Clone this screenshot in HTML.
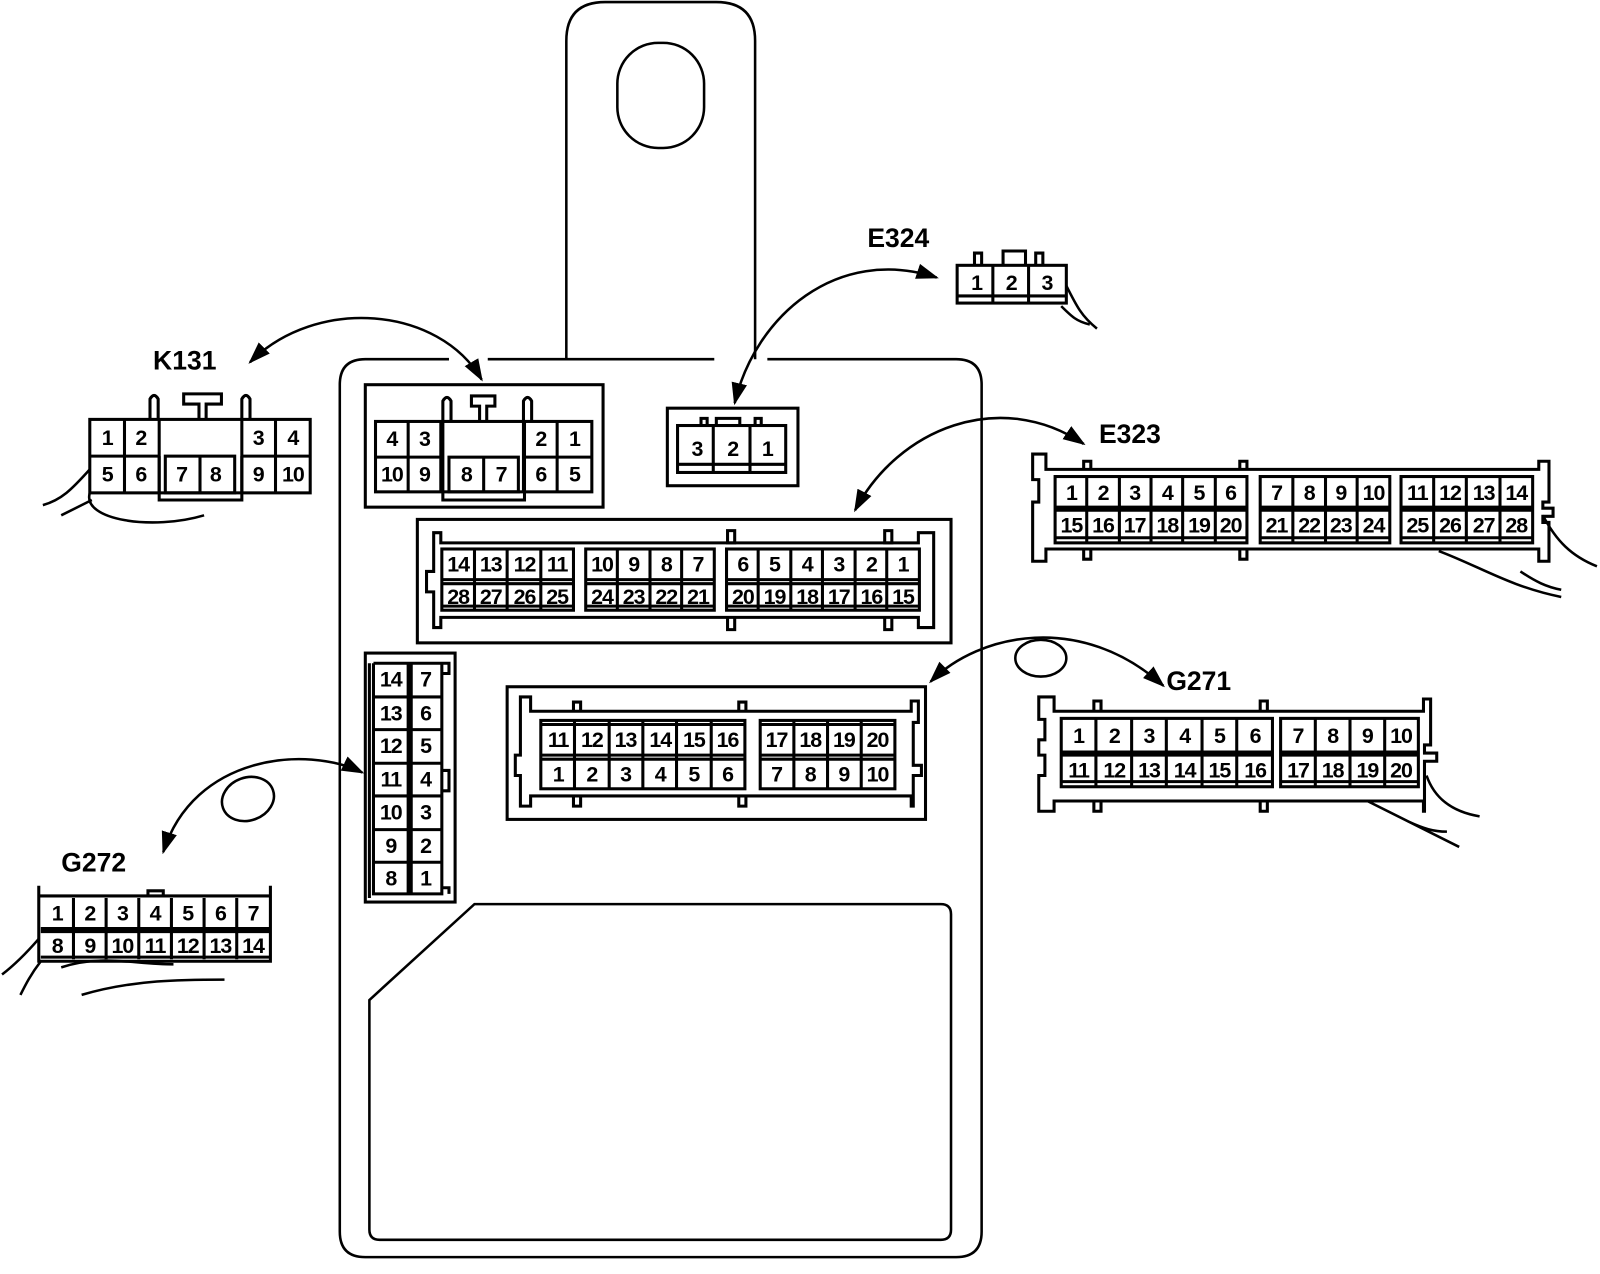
<!DOCTYPE html>
<html><head><meta charset="utf-8"><style>
html,body{margin:0;padding:0;background:#fff}
svg{display:block}
text{font-family:"Liberation Sans",Arial,sans-serif;font-weight:bold;fill:#000;text-anchor:middle}
.n{font-size:21px;letter-spacing:-1px}
.L{font-size:26px;text-anchor:start}
</style></head><body>
<svg width="1600" height="1274" viewBox="0 0 1568 1248.5" xmlns="http://www.w3.org/2000/svg">
<defs>
<marker id="b" viewBox="0 0 10 10" refX="9" refY="5" markerWidth="22" markerHeight="22" orient="auto-start-reverse" markerUnits="userSpaceOnUse"><path d="M0,1.5 L10,5 L0,8.5 Z"/></marker></defs>
<g fill="none" stroke="#000" stroke-width="2.5">
<!-- housing -->
<path d="M555,352 L555,40 Q555,2 593,2 L702,2 Q740,2 740,40 L740,352"/>
<rect x="605" y="42" width="85" height="103" rx="40"/>
<path d="M440,352 L358,352 Q333,352 333,377 L333,1207 Q333,1232 358,1232 L937,1232 Q962,1232 962,1207 L962,377 Q962,352 937,352 L752,352 M700,352 L478,352"/>
<path d="M465,886 L922,886 Q932,886 932,896 L932,1205 Q932,1215 922,1215 L372,1215 Q362,1215 362,1205 L362,980 Z"/>
</g>
<g fill="none" stroke="#000" stroke-width="3">
<!-- internal K131 -->
<rect x="358" y="377" width="233" height="120"/>
<rect x="368" y="413" width="212" height="69"/>
<path d="M368,448 H432 M513,448 H580 M400,413 V482 M546,413 V482 M432,413 V482 M513,413 V482"/>
<path d="M434,413 V490 H514 V413"/><rect x="440" y="448" width="68" height="34"/><path d="M474,448 V482"/>
<path d="M434,413 V393 Q438,386 442,393 V413 M513,413 V393 Q517,386 521,393 V413"/>
<path d="M470,413 V398 H462 V388 H485 V398 H477 V413"/>
<!-- internal E324 -->
<rect x="654" y="400" width="128" height="76"/>
<rect x="664" y="417" width="106" height="46"/><path d="M664,455 H770 M699,417 V463 M735,417 V463 M702,417 V410 H725 V417 M687,417 V410 H693 V417 M740,417 V410 H746 V417"/>
<!-- internal 28 -->
<rect x="409" y="509" width="523" height="121"/>
<path d="M425,522 H432 V532 H900 V522 H915 V615 H900 V605 H432 V615 H425 V580 H418 V560 H425 Z"/>
<rect x="433" y="538" width="129" height="60"/><rect x="574" y="538" width="126" height="60"/><rect x="712" y="538" width="189" height="60"/>
<path d="M433,568 H562 M433,572 H562 M433,594 H562 M574,568 H700 M574,572 H700 M574,594 H700 M712,568 H901 M712,572 H901 M712,594 H901"/>
<path d="M465,538 V598 M497,538 V598 M530,538 V598 M605,538 V598 M637,538 V598 M668,538 V598 M743,538 V598 M775,538 V598 M806,538 V598 M838,538 V598 M869,538 V598"/>
<path d="M713,520 V532 H720 V520 Z M867,520 V532 H874 V520 Z M713,605 V617 H720 V605 M867,605 V617 H874 V605"/>
<!-- vertical 14 -->
<rect x="358" y="640" width="88" height="244"/>
<path d="M362,650 V880 M366,650 V876 H433 V650 M400,650 V876 M403,650 V876 M366,650 H433 M433,650 H440 V660 H433 M433,755 H440 V775 H433 M433,870 H440 V876"/>
<path d="M366,683 H433 M366,715 H433 M366,748 H433 M366,780 H433 M366,813 H433 M366,845 H433"/>
<!-- internal 20 -->
<rect x="497" y="673" width="410" height="130"/>
<path d="M510,683 H520 V697 H893 V687 H900 V708 H895 V750 H903 V760 H895 V790 H893 V780 H520 V790 H510 V760 H505 V740 H510 Z"/>
<rect x="530" y="706" width="200" height="67"/><rect x="745" y="706" width="132" height="67"/>
<path d="M530,710 H730 M530,740 H730 M530,744 H730 M745,710 H877 M745,740 H877 M745,744 H877"/>
<path d="M563,706 V773 M597,706 V773 M630,706 V773 M663,706 V773 M697,706 V773 M778,706 V773 M811,706 V773 M844,706 V773"/>
<path d="M562,697 V688 H569 V697 M724,697 V688 H731 V697 M562,780 V790 H569 V780 M724,780 V790 H731 V780"/>
<!-- K131 external -->
<rect x="88" y="411" width="216" height="72"/>
<path d="M88,447 H156 M237,447 H304 M122,411 V483 M270,411 V483 M156,411 V483 M237,411 V483"/>
<path d="M156,447 V490 H237 V447"/><rect x="162" y="447" width="68" height="36"/><path d="M196,447 V483"/>
<path d="M147,411 V391 Q151,384 155,391 V411 M237,411 V391 Q241,384 245,391 V411"/>
<path d="M195,411 V396 H180 V386 H217 V396 H202 V411"/>
<!-- E324 external -->
<rect x="938" y="260" width="107" height="37"/><path d="M938,290 H1045 M973,260 V297 M1008,260 V297 M955,260 V248 H962 V260 M983,260 V246 H1005 V260 M1015,260 V248 H1022 V260"/>
<!-- E323 external -->
<path d="M1012,445 H1025 V460 H1508 V452 H1518 V492 H1512 V498 H1522 V506 H1512 V512 H1518 V550 H1508 V538 H1025 V550 H1012 V492 H1018 V470 H1012 Z"/>
<rect x="1034" y="467" width="188" height="65"/><rect x="1235" y="467" width="127" height="65"/><rect x="1373" y="467" width="129" height="65"/>
<path d="M1034,497 H1222 M1034,500 H1222 M1034,527 H1222 M1235,497 H1362 M1235,500 H1362 M1235,527 H1362 M1373,497 H1502 M1373,500 H1502 M1373,527 H1502"/>
<path d="M1065,467 V532 M1097,467 V532 M1128,467 V532 M1159,467 V532 M1191,467 V532 M1267,467 V532 M1299,467 V532 M1330,467 V532 M1405,467 V532 M1437,467 V532 M1470,467 V532"/>
<path d="M1062,460 V452 H1069 V460 M1215,460 V452 H1222 V460 M1062,538 V548 H1069 V538 M1215,538 V548 H1222 V538"/>
<!-- G271 external -->
<path d="M1018,683 H1033 V697 H1395 V685 H1402 V730 H1396 V738 H1408 V746 H1396 V795 H1395 V785 H1033 V795 H1018 V760 H1024 V740 H1018 V725 H1024 V705 H1018 Z"/>
<rect x="1040" y="704" width="207" height="67"/><rect x="1255" y="704" width="135" height="67"/>
<path d="M1040,737 H1247 M1040,740 H1247 M1040,766 H1247 M1255,737 H1390 M1255,740 H1390 M1255,766 H1390"/>
<path d="M1074,704 V771 M1109,704 V771 M1143,704 V771 M1178,704 V771 M1212,704 V771 M1289,704 V771 M1323,704 V771 M1357,704 V771"/>
<path d="M1072,697 V687 H1079 V697 M1235,697 V687 H1242 V697 M1072,785 V795 H1079 V785 M1235,785 V795 H1242 V785"/>
<!-- G272 external -->
<path d="M38,868 V878 H265 V868 M38,878 V942 H265 V878 M40,910 H264 M40,913 H264 M40,938 H264"/>
<path d="M72,880 V940 M104,880 V940 M136,880 V940 M168,880 V940 M200,880 V940 M232,880 V940 M145,878 V873 H160 V878"/>
</g>
<!-- arrows -->
<g fill="none" stroke="#000" stroke-width="2.5">
<path d="M472,372 C430,300 310,290 245,355" marker-start="url(#b)" marker-end="url(#b)"/>
<path d="M720,395 C740,310 820,240 918,272" marker-start="url(#b)" marker-end="url(#b)"/>
<path d="M838,500 C880,420 980,380 1062,435" marker-start="url(#b)" marker-end="url(#b)"/>
<path d="M912,668 C960,620 1060,600 1140,672" marker-start="url(#b)" marker-end="url(#b)"/>
<path d="M355,757 C300,730 190,740 160,835" marker-start="url(#b)" marker-end="url(#b)"/>
<ellipse cx="1020" cy="645" rx="25" ry="18"/>
<ellipse cx="243" cy="783" rx="26" ry="21" transform="rotate(-20 243 783)"/>
<!-- wires -->
<path d="M88,460 C70,480 60,490 42,495 M60,505 C70,500 80,495 90,490 M88,483 C80,510 150,520 200,505"/>
<path d="M1045,280 C1055,300 1060,310 1075,322 M1040,300 C1050,310 1055,315 1068,318"/>
<path d="M1512,505 C1525,530 1540,545 1565,555 M1410,540 C1450,555 1480,575 1530,585 M1490,560 C1505,570 1515,575 1530,578"/>
<path d="M1398,760 C1405,780 1420,795 1450,800 M1340,785 C1370,800 1400,815 1430,830 M1380,805 C1395,812 1405,815 1418,815"/>
<path d="M38,920 C25,935 15,945 2,955 M40,942 C30,955 25,965 20,975 M60,948 C100,935 130,945 170,945 M80,975 C130,960 180,960 220,960"/>
</g>
<!-- labels -->
<text class="L" x="150" y="362">K131</text>
<text class="L" x="850" y="242">E324</text>
<text class="L" x="1077" y="434">E323</text>
<text class="L" x="1143" y="676">G271</text>
<text class="L" x="60" y="854">G272</text>
<g class="n">
<text x="384" y="437">4</text><text x="416" y="437">3</text><text x="530" y="437">2</text><text x="563" y="437">1</text>
<text x="384" y="472">10</text><text x="416" y="472">9</text><text x="457" y="472">8</text><text x="491" y="472">7</text><text x="530" y="472">6</text><text x="563" y="472">5</text>
<text x="683" y="447">3</text><text x="718" y="447">2</text><text x="752" y="447">1</text>
<text x="449" y="560">14</text><text x="481" y="560">13</text><text x="514" y="560">12</text><text x="546" y="560">11</text>
<text x="590" y="560">10</text><text x="621" y="560">9</text><text x="653" y="560">8</text><text x="684" y="560">7</text>
<text x="728" y="560">6</text><text x="759" y="560">5</text><text x="791" y="560">4</text><text x="822" y="560">3</text><text x="854" y="560">2</text><text x="885" y="560">1</text>
<text x="449" y="592">28</text><text x="481" y="592">27</text><text x="514" y="592">26</text><text x="546" y="592">25</text>
<text x="590" y="592">24</text><text x="621" y="592">23</text><text x="653" y="592">22</text><text x="684" y="592">21</text>
<text x="728" y="592">20</text><text x="759" y="592">19</text><text x="791" y="592">18</text><text x="822" y="592">17</text><text x="854" y="592">16</text><text x="885" y="592">15</text>
<text x="383" y="673">14</text><text x="383" y="706">13</text><text x="383" y="738">12</text><text x="383" y="771">11</text><text x="383" y="803">10</text><text x="383" y="836">9</text><text x="383" y="868">8</text>
<text x="417" y="673">7</text><text x="417" y="706">6</text><text x="417" y="738">5</text><text x="417" y="771">4</text><text x="417" y="803">3</text><text x="417" y="836">2</text><text x="417" y="868">1</text>
<text x="547" y="732">11</text><text x="580" y="732">12</text><text x="613" y="732">13</text><text x="647" y="732">14</text><text x="680" y="732">15</text><text x="713" y="732">16</text>
<text x="761" y="732">17</text><text x="794" y="732">18</text><text x="827" y="732">19</text><text x="860" y="732">20</text>
<text x="547" y="766">1</text><text x="580" y="766">2</text><text x="613" y="766">3</text><text x="647" y="766">4</text><text x="680" y="766">5</text><text x="713" y="766">6</text>
<text x="761" y="766">7</text><text x="794" y="766">8</text><text x="827" y="766">9</text><text x="860" y="766">10</text>
<text x="105" y="436">1</text><text x="138" y="436">2</text><text x="253" y="436">3</text><text x="287" y="436">4</text>
<text x="105" y="472">5</text><text x="138" y="472">6</text><text x="178" y="472">7</text><text x="211" y="472">8</text><text x="253" y="472">9</text><text x="287" y="472">10</text>
<text x="957" y="284">1</text><text x="991" y="284">2</text><text x="1026" y="284">3</text>
<text x="1050" y="490">1</text><text x="1081" y="490">2</text><text x="1112" y="490">3</text><text x="1144" y="490">4</text><text x="1175" y="490">5</text><text x="1206" y="490">6</text>
<text x="1251" y="490">7</text><text x="1283" y="490">8</text><text x="1314" y="490">9</text><text x="1346" y="490">10</text>
<text x="1389" y="490">11</text><text x="1421" y="490">12</text><text x="1454" y="490">13</text><text x="1486" y="490">14</text>
<text x="1050" y="522">15</text><text x="1081" y="522">16</text><text x="1112" y="522">17</text><text x="1144" y="522">18</text><text x="1175" y="522">19</text><text x="1206" y="522">20</text>
<text x="1251" y="522">21</text><text x="1283" y="522">22</text><text x="1314" y="522">23</text><text x="1346" y="522">24</text>
<text x="1389" y="522">25</text><text x="1421" y="522">26</text><text x="1454" y="522">27</text><text x="1486" y="522">28</text>
<text x="1057" y="728">1</text><text x="1092" y="728">2</text><text x="1126" y="728">3</text><text x="1161" y="728">4</text><text x="1195" y="728">5</text><text x="1230" y="728">6</text>
<text x="1272" y="728">7</text><text x="1306" y="728">8</text><text x="1340" y="728">9</text><text x="1373" y="728">10</text>
<text x="1057" y="762">11</text><text x="1092" y="762">12</text><text x="1126" y="762">13</text><text x="1161" y="762">14</text><text x="1195" y="762">15</text><text x="1230" y="762">16</text>
<text x="1272" y="762">17</text><text x="1306" y="762">18</text><text x="1340" y="762">19</text><text x="1373" y="762">20</text>
<text x="56" y="902">1</text><text x="88" y="902">2</text><text x="120" y="902">3</text><text x="152" y="902">4</text><text x="184" y="902">5</text><text x="216" y="902">6</text><text x="248" y="902">7</text>
<text x="56" y="934">8</text><text x="88" y="934">9</text><text x="120" y="934">10</text><text x="152" y="934">11</text><text x="184" y="934">12</text><text x="216" y="934">13</text><text x="248" y="934">14</text>
</g>
</svg>
</body></html>
